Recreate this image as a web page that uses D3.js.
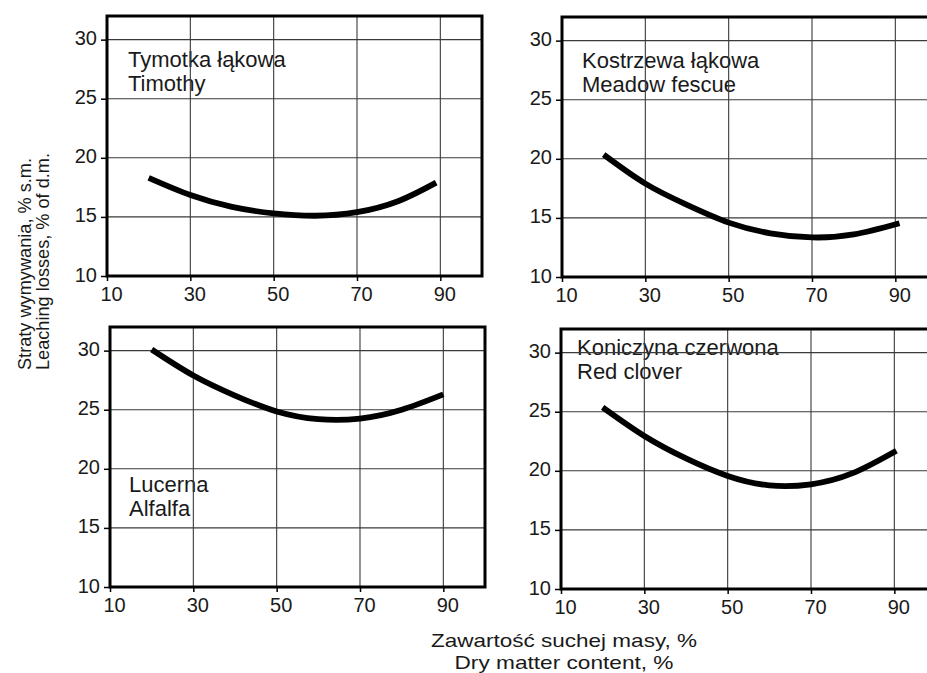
<!DOCTYPE html>
<html>
<head>
<meta charset="utf-8">
<script src="https://cdn.jsdelivr.net/npm/d3@7"></script>
<style>
  html, body { margin: 0; padding: 0; background: #ffffff; }
  svg { display: block; font-family: "Liberation Sans", Arial, sans-serif; }
</style>
</head>
<body>
<svg id="chart" width="927" height="673"></svg>
<script>
// Leaching losses (% of dry matter) against dry matter content (%) for four forage crops.
const xTicks = [10, 30, 50, 70, 90];
const yTicks = [10, 15, 20, 25, 30];
const xDomain = [10, 100];
const yDomain = [10, 32];

const timothyX = [20, 30, 40, 50, 60, 70, 80, 89];
const timothyY = [18.3, 16.85, 15.85, 15.3, 15.1, 15.4, 16.35, 17.9];

const fescueX = [20, 30, 40, 50, 60, 70, 80, 91];
const fescueY = [20.35, 17.9, 16.1, 14.6, 13.7, 13.35, 13.6, 14.55];

const alfalfaX = [20, 30, 40, 50, 60, 70, 80, 90];
const alfalfaY = [30.1, 27.9, 26.2, 24.85, 24.2, 24.25, 25.0, 26.3];

const cloverX = [20, 30, 40, 50, 60, 70, 80, 90.5];
const cloverY = [25.37, 22.95, 21.05, 19.57, 18.77, 18.86, 19.8, 21.7];

const timothyLabel = ["Tymotka łąkowa", "Timothy"];
const fescueLabel = ["Kostrzewa łąkowa", "Meadow fescue"];
const alfalfaLabel = ["Lucerna", "Alfalfa"];
const cloverLabel = ["Koniczyna czerwona", "Red clover"];

const yTitle = ["Straty wymywania, % s.m.", "Leaching losses, % of d.m."];
const xTitle = ["Zawartość suchej masy, %", "Dry matter content, %"];

// Panel layout: plot origin (left, bottom) and the offset of the crop name
// from the panel's top-left corner (first baseline).
const panels = [
  { xs: timothyX, ys: timothyY, label: timothyLabel, left: 107, bottom: 276, lx: 21, ly: 51 },
  { xs: fescueX,  ys: fescueY,  label: fescueLabel,  left: 562, bottom: 277, lx: 20, ly: 51 },
  { xs: alfalfaX, ys: alfalfaY, label: alfalfaLabel, left: 110, bottom: 587, lx: 19, ly: 165 },
  { xs: cloverX,  ys: cloverY,  label: cloverLabel,  left: 561, bottom: 589, lx: 16, ly: 26 }
];

const W = 375, H = 260;
const svg = d3.select("#chart");

panels.forEach(p => {
  const x = d3.scaleLinear().domain(xDomain).range([0, W]);
  const y = d3.scaleLinear().domain(yDomain).range([H, 0]);
  const g = svg.append("g").attr("transform", `translate(${p.left},${p.bottom - H})`);

  // crop name
  const t = g.append("text")
    .attr("x", p.lx)
    .attr("y", p.ly)
    .attr("font-size", 22)
    .attr("fill", "#1a1a1a");
  p.label.forEach((s, i) => {
    t.append("tspan").attr("x", p.lx).attr("dy", i === 0 ? 0 : 23.5).text(s);
  });

  // grid
  g.append("g").selectAll("line").data(yTicks.slice(1)).join("line")
    .attr("x1", 0).attr("x2", W)
    .attr("y1", d => y(d)).attr("y2", d => y(d))
    .attr("stroke", "#3a3a3a").attr("stroke-width", 1.1);
  g.append("g").selectAll("line").data(xTicks.slice(1)).join("line")
    .attr("y1", 0).attr("y2", H)
    .attr("x1", d => x(d)).attr("x2", d => x(d))
    .attr("stroke", "#3a3a3a").attr("stroke-width", 1.1);

  // axes
  const ax = g.append("g").attr("transform", `translate(0,${H})`)
    .call(d3.axisBottom(x).tickValues(xTicks).tickSize(5).tickSizeOuter(0).tickPadding(6));
  const ay = g.append("g")
    .call(d3.axisLeft(y).tickValues(yTicks).tickSize(6).tickSizeOuter(0).tickPadding(4));
  [ax, ay].forEach(a => {
    a.select(".domain").remove();
    a.selectAll("line").attr("stroke", "#000").attr("stroke-width", 1.5);
    a.selectAll("text").attr("font-size", 20).attr("fill", "#1a1a1a")
      .attr("font-family", "'Liberation Sans', Arial, sans-serif");
  });
  ax.selectAll("text").attr("dx", 4);
  ay.selectAll("text").attr("dy", "0.25em");

  // frame
  g.append("rect").attr("x", 0).attr("y", 0).attr("width", W).attr("height", H)
    .attr("fill", "none").attr("stroke", "#000").attr("stroke-width", 3);

  // fitted curve
  const pts = p.xs.map((v, i) => [v, p.ys[i]]);
  g.append("path").datum(pts)
    .attr("d", d3.line().x(d => x(d[0])).y(d => y(d[1])).curve(d3.curveNatural))
    .attr("fill", "none").attr("stroke", "#000").attr("stroke-width", 5.8)
    .attr("stroke-linecap", "butt");
});

// shared y title
yTitle.forEach((s, i) => {
  svg.append("text")
    .attr("transform", `translate(${31 + i * 18},370) rotate(-90)`)
    .attr("text-anchor", "start")
    .attr("font-size", 18)
    .attr("fill", "#1a1a1a")
    .attr("textLength", i === 0 ? 212 : 217)
    .attr("lengthAdjust", "spacingAndGlyphs")
    .text(s);
});

// shared x title
xTitle.forEach((s, i) => {
  svg.append("text")
    .attr("x", 564).attr("y", 647 + i * 21.5)
    .attr("text-anchor", "middle")
    .attr("font-size", 19)
    .attr("fill", "#1a1a1a")
    .attr("textLength", i === 0 ? 266 : 219)
    .attr("lengthAdjust", "spacingAndGlyphs")
    .text(s);
});
</script>
</body>
</html>
